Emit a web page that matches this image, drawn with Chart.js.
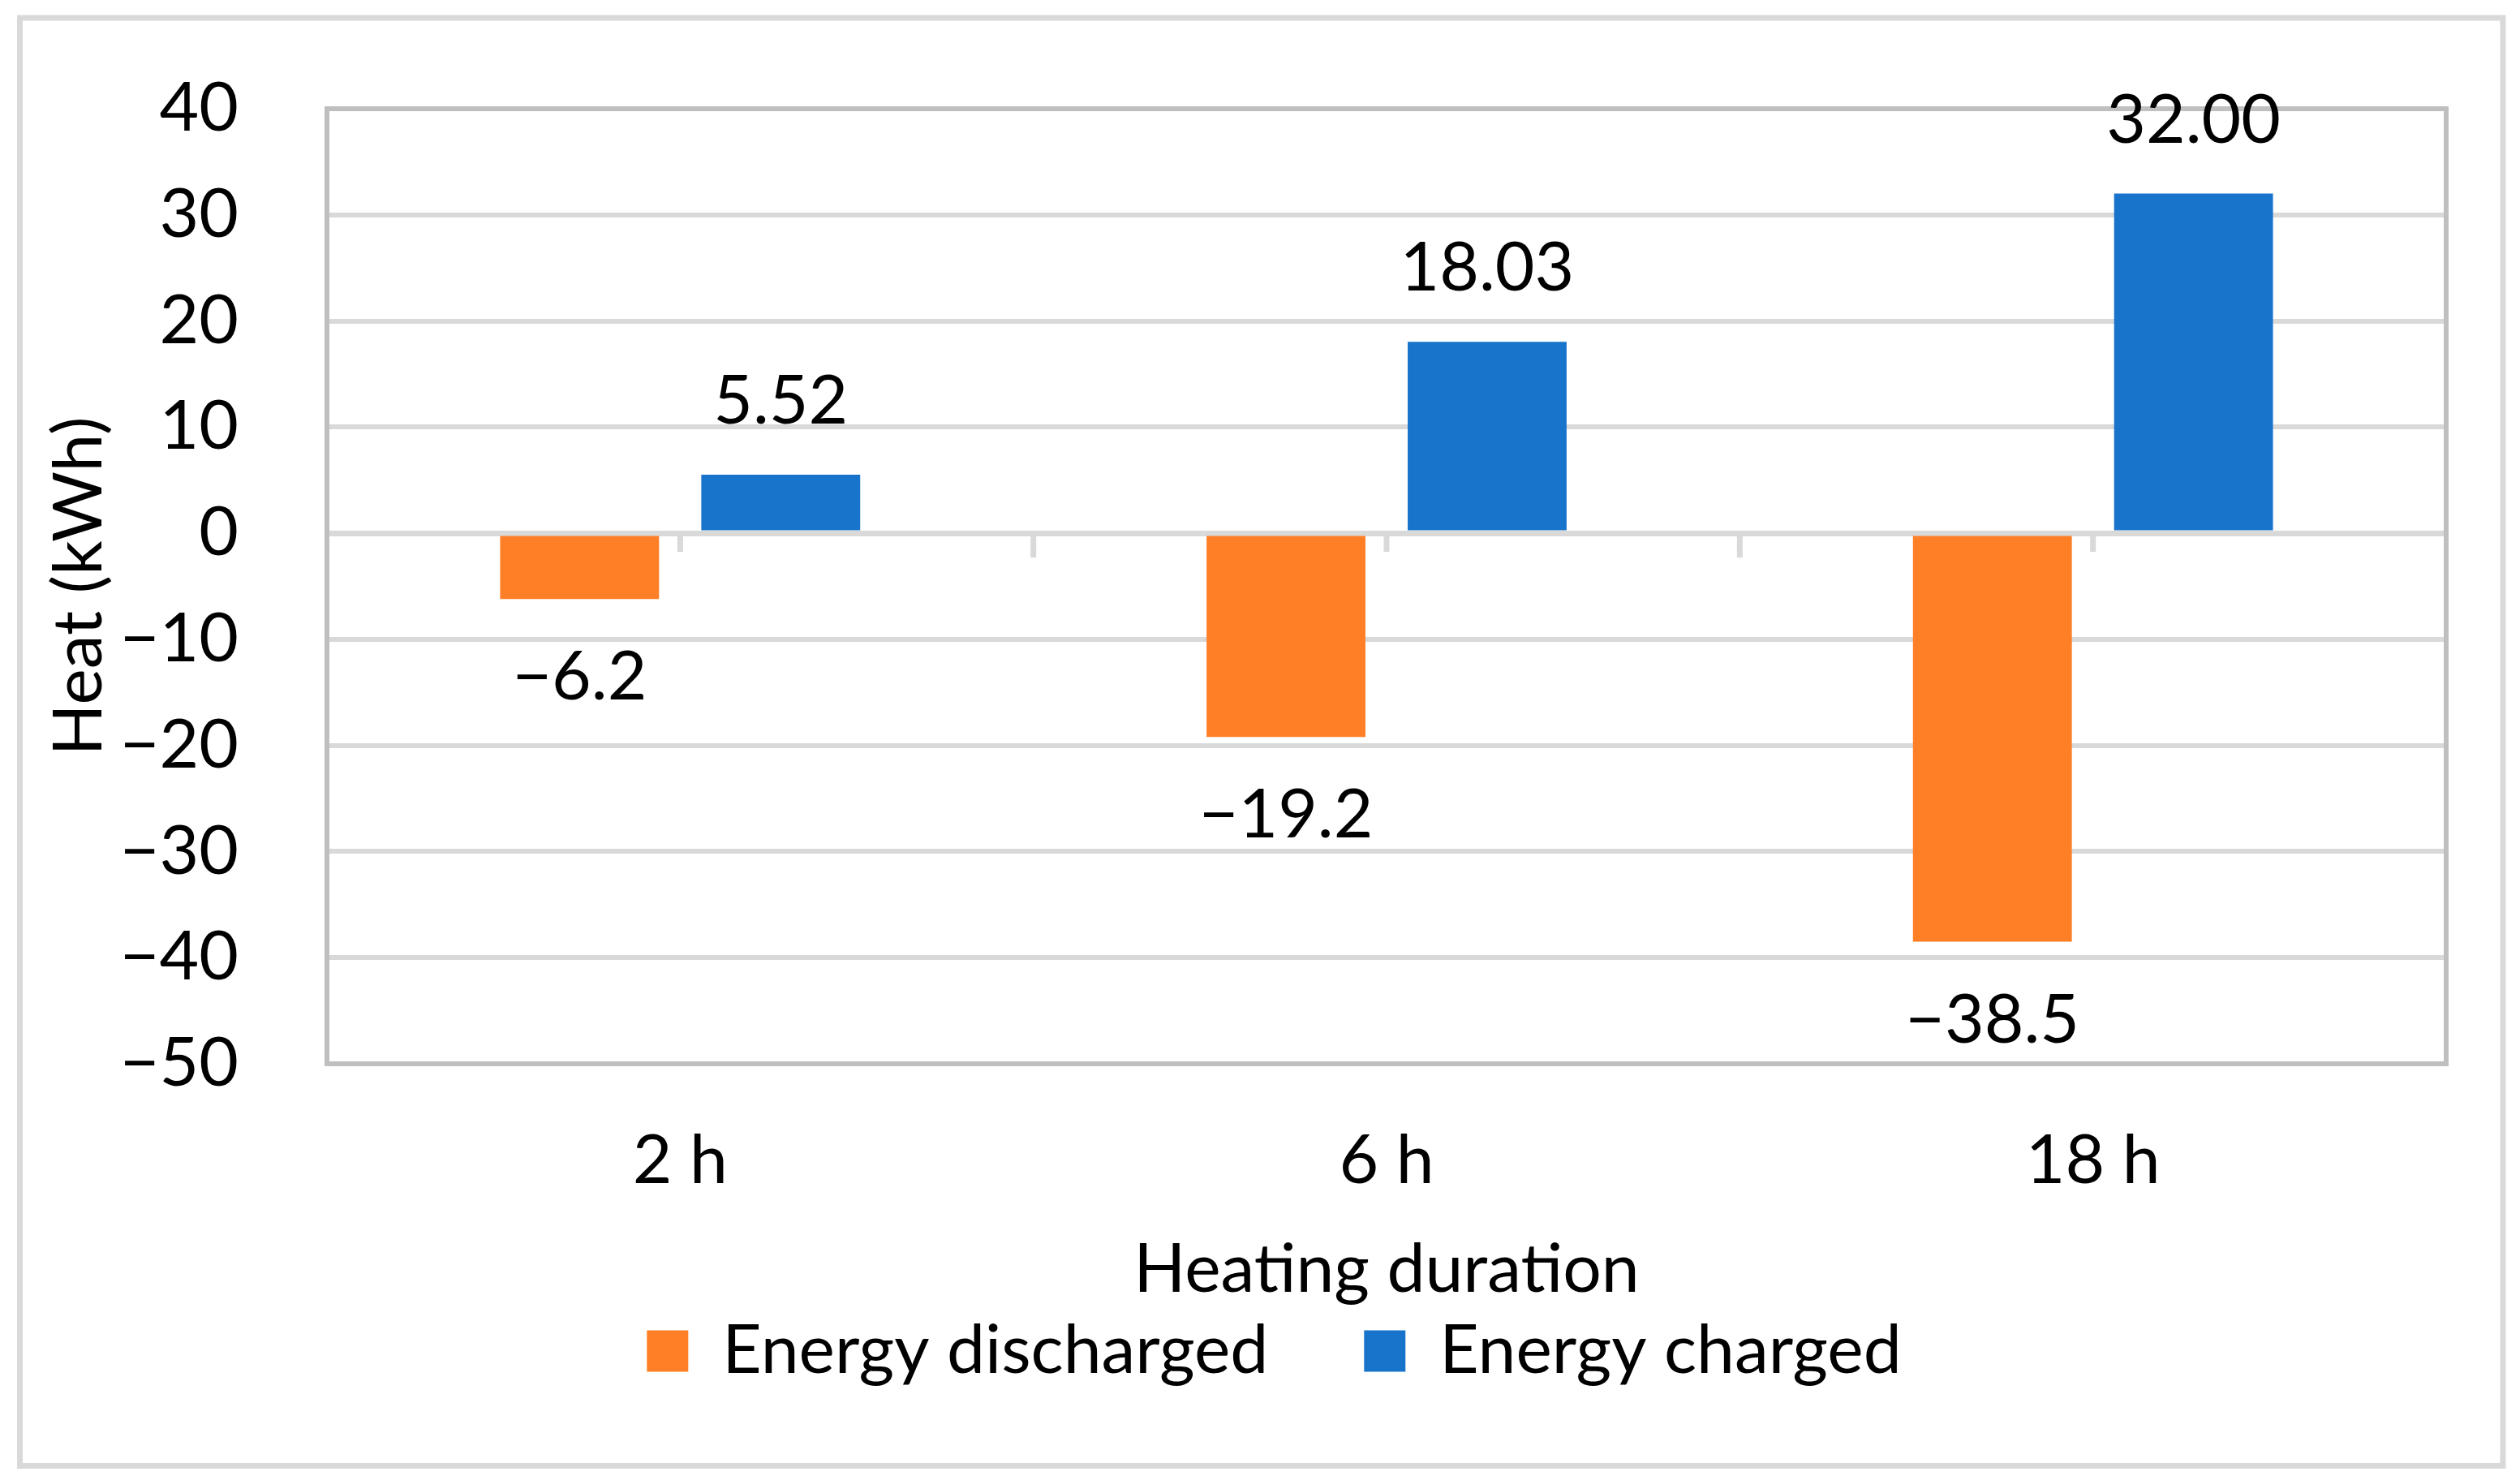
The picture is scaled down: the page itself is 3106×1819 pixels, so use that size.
<!DOCTYPE html>
<html>
<head>
<meta charset="utf-8">
<script src="https://cdn.jsdelivr.net/npm/chart.js@4.4.1/dist/chart.umd.min.js"></script>
<style>
html, body { margin: 0; padding: 0; background: #fff; }
canvas { display: block; }
</style>
</head>
<body>
<canvas id="canvas" width="3106" height="1819"></canvas>
<script>
//資料
var categories = ['2 h', '6 h', '18 h'];
var seriesNames = ['Energy discharged', 'Energy charged'];
var discharged = [-6.2, -19.2, -38.5];
var charged = [5.52, 18.03, 32.00];
var labelDecimals = [1, 2];
var yMin = -50;
var yMax = 40;
var yStep = 10;

var FONT = 'Lato';
var FS = 84;
var MINUS = '\u2212';

function fmt(v, d) {
    var s = Math.abs(v).toFixed(d);
    return v < 0 ? MINUS + s : s;
}

//外框 + 零線刻度
var framePlugin = {
    id: 'frame',
    beforeDraw: function(chart) {
        var ctx = chart.ctx;
        ctx.save();
        ctx.fillStyle = '#fff';
        ctx.fillRect(0, 0, chart.width, chart.height);
        ctx.strokeStyle = '#d9d9d9';
        ctx.lineWidth = 7;
        ctx.strokeRect(24.5, 22, 3085 - 24.5, 1806.5 - 22);
        ctx.restore();
    },
    beforeDatasetsDraw: function(chart) {
        var ctx = chart.ctx;
        var a = chart.chartArea;
        var x = chart.scales.x;
        var y0 = chart.scales.y.getPixelForValue(0);
        ctx.save();
        ctx.strokeStyle = '#d9d9d9';
        ctx.lineWidth = 7;
        for (var i = 0; i < categories.length; i++) {
            var c = x.getPixelForValue(i);
            ctx.beginPath();
            ctx.moveTo(c, y0);
            ctx.lineTo(c, y0 + 23);
            ctx.stroke();
            if (i < categories.length - 1) {
                var b = (c + x.getPixelForValue(i + 1)) / 2;
                ctx.beginPath();
                ctx.moveTo(b, y0);
                ctx.lineTo(b, y0 + 30);
                ctx.stroke();
            }
        }
        ctx.strokeStyle = '#bfbfbf';
        ctx.lineWidth = 6;
        ctx.strokeRect(a.left, a.top, a.right - a.left, a.bottom - a.top);
        ctx.restore();
    }
};

//數值標籤
var valueLabels = {
    id: 'valueLabels',
    afterDatasetsDraw: function(chart) {
        var ctx = chart.ctx;
        ctx.save();
        ctx.font = FS + 'px ' + FONT;
        ctx.fillStyle = '#000';
        ctx.textAlign = 'center';
        ctx.textBaseline = 'middle';
        chart.data.datasets.forEach(function(ds, di) {
            chart.getDatasetMeta(di).data.forEach(function(bar, i) {
                var v = ds.data[i];
                var y = v >= 0 ? bar.y - 90 : bar.y + 97;
                ctx.fillText(fmt(v, labelDecimals[di]), bar.x, y);
            });
        });
        ctx.restore();
    }
};

var ctx = document.getElementById('canvas').getContext('2d');

new Chart(ctx, {
    type: 'bar',
    data: {
        labels: categories,
        datasets: [{
            label: seriesNames[0],
            data: discharged,
            backgroundColor: '#ff7f27'
        }, {
            label: seriesNames[1],
            data: charged,
            backgroundColor: '#1874cb'
        }]
    },
    options: {
        responsive: false,
        animation: false,
        devicePixelRatio: 1,
        categoryPercentage: 0.5695,
        barPercentage: 0.79,
        layout: {
            padding: { left: 126, top: 134, right: 91, bottom: 102 }
        },
        plugins: {
            legend: {
                position: 'bottom',
                labels: {
                    boxWidth: 51,
                    boxHeight: 51,
                    padding: 118,
                    color: '#000',
                    font: { family: FONT, size: FS }
                }
            },
            tooltip: { enabled: false }
        },
        scales: {
            x: {
                grid: { display: false },
                border: { display: false },
                ticks: {
                    color: '#000',
                    padding: 62,
                    font: { family: FONT, size: FS }
                },
                title: {
                    display: true,
                    text: 'Heating duration',
                    color: '#000',
                    padding: { top: 0, bottom: -110 },
                    font: { family: FONT, size: FS }
                },
                afterFit: function(scale) { scale.height = 194; }
            },
            y: {
                min: yMin,
                max: yMax,
                border: { display: false },
                grid: {
                    color: '#d9d9d9',
                    tickColor: 'rgba(0,0,0,0)',
                    tickLength: 100,
                    lineWidth: function(c) { return c.tick && c.tick.value === 0 ? 7 : 6; }
                },
                ticks: {
                    stepSize: yStep,
                    color: '#000',
                    padding: 9,
                    font: { family: FONT, size: FS },
                    callback: function(v) { return v < 0 ? MINUS + Math.abs(v) : String(v); }
                },
                title: {
                    display: true,
                    text: 'Heat (kWh)',
                    color: '#000',
                    padding: { top: -78, bottom: 0 },
                    font: { family: FONT, size: FS }
                },
                afterFit: function(scale) { scale.width = 403 - 126; }
            }
        }
    },
    plugins: [framePlugin, valueLabels]
});
</script>
</body>
</html>
